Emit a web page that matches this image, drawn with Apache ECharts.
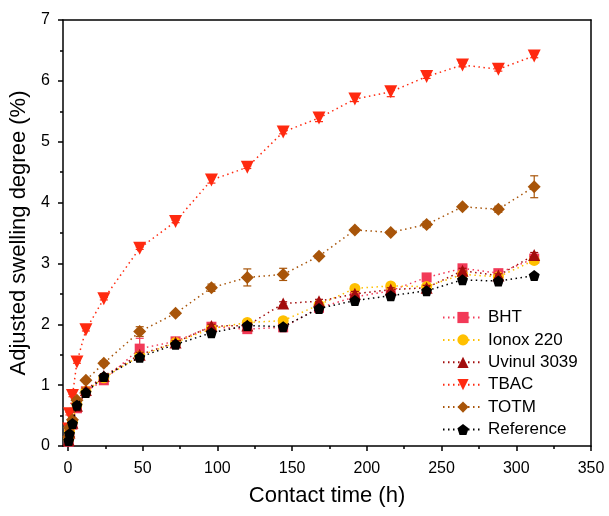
<!DOCTYPE html>
<html>
<head>
<meta charset="utf-8">
<script src="https://cdn.jsdelivr.net/npm/echarts@6/dist/echarts.min.js"></script>
<style>
html,body{margin:0;padding:0;background:#fff;}
#chart{width:609px;height:516px;}
</style>
</head>
<body>
<div id="chart"></div>
<script>
// ---- data ----
const times = [0.5, 1, 3, 6, 12, 24, 48, 72, 96, 120, 144, 168, 192, 216, 240, 264, 288, 312];
const seriesNames = ["BHT", "Ionox 220", "Uvinul 3039", "TBAC", "TOTM", "Reference"];
const bht       = [0.07, 0.20, 0.35, 0.62, 0.90, 1.08, 1.60, 1.72, 1.96, 1.92, 1.95, 2.27, 2.45, 2.55, 2.77, 2.92, 2.84, 3.08];
const ionox     = [0.12, 0.24, 0.40, 0.68, 0.90, 1.12, 1.48, 1.70, 1.93, 2.03, 2.06, 2.32, 2.59, 2.63, 2.62, 2.82, 2.78, 3.05];
const uvinul    = [0.10, 0.22, 0.38, 0.66, 0.92, 1.15, 1.50, 1.70, 1.97, 1.98, 2.34, 2.38, 2.50, 2.57, 2.60, 2.88, 2.80, 3.14];
const tbac      = [0.28, 0.53, 0.83, 1.38, 1.91, 2.42, 3.25, 3.69, 4.37, 4.58, 5.16, 5.39, 5.70, 5.82, 6.07, 6.26, 6.19, 6.41];
const totm      = [0.15, 0.30, 0.43, 0.75, 1.08, 1.36, 1.88, 2.18, 2.60, 2.77, 2.82, 3.12, 3.55, 3.51, 3.64, 3.93, 3.89, 4.26];
const reference = [0.09, 0.20, 0.37, 0.67, 0.88, 1.14, 1.46, 1.67, 1.86, 1.98, 1.96, 2.26, 2.39, 2.47, 2.55, 2.73, 2.71, 2.80];
// error bars (±)
const bhtErr    = [0.03, 0.03, 0.03, 0.03, 0.03, 0.03, 0.17, 0.03, 0.03, 0.03, 0.03, 0.03, 0.03, 0.03, 0.03, 0.03, 0.03, 0.03];
const ionoxErr  = [0.02, 0.02, 0.02, 0.02, 0.02, 0.03, 0.03, 0.03, 0.03, 0.03, 0.03, 0.03, 0.03, 0.03, 0.03, 0.03, 0.03, 0.03];
const uvinulErr = [0.03, 0.03, 0.03, 0.03, 0.03, 0.04, 0.04, 0.03, 0.03, 0.04, 0.03, 0.03, 0.04, 0.03, 0.04, 0.04, 0.03, 0.04];
const tbacErr   = [0.02, 0.02, 0.02, 0.02, 0.02, 0.02, 0.02, 0.02, 0.05, 0.02, 0.03, 0.06, 0.04, 0.08, 0.03, 0.03, 0.03, 0.03];
const totmErr   = [0.02, 0.02, 0.03, 0.03, 0.03, 0.04, 0.08, 0.03, 0.06, 0.14, 0.10, 0.03, 0.03, 0.03, 0.05, 0.03, 0.05, 0.18];
const refErr    = [0.03, 0.03, 0.03, 0.03, 0.03, 0.03, 0.03, 0.03, 0.03, 0.03, 0.03, 0.03, 0.03, 0.03, 0.03, 0.03, 0.03, 0.03];
const xTicks = [0, 50, 100, 150, 200, 250, 300, 350];
const xMinorTicks = [25, 75, 125, 175, 225, 275, 325];
const yTicks = [0, 1, 2, 3, 4, 5, 6, 7];

// ---- styles ----
const FONT = "Liberation Sans, Arial, sans-serif";
const pentagon = 'path://M0,-10 L9.51,-3.09 L5.88,8.09 L-5.88,8.09 L-9.51,-3.09 Z';
const styles = [
  {color: '#F23A58', symbol: 'rect', size: 10, rotate: 0},
  {color: '#FFC000', symbol: 'circle', size: 11, rotate: 0},
  {color: '#A20C0C', symbol: 'triangle', size: 12, rotate: 0},
  {color: '#FF2A10', symbol: 'triangle', size: 13, rotate: 180},
  {color: '#A8550A', symbol: 'diamond', size: 13, rotate: 0},
  {color: '#000000', symbol: pentagon, size: 11, rotate: 0}
];
const values = [bht, ionox, uvinul, tbac, totm, reference];
const errors = [bhtErr, ionoxErr, uvinulErr, tbacErr, totmErr, refErr];

const chart = echarts.init(document.getElementById('chart'), null, {renderer: 'canvas'});

const series = [];
values.forEach((vals, i) => {
  const st = styles[i];
  series.push({
    name: seriesNames[i],
    type: 'line',
    xAxisIndex: 0, yAxisIndex: 0,
    data: times.map((t, k) => [t, vals[k]]),
    symbol: st.symbol,
    symbolSize: st.size,
    symbolRotate: st.rotate,
    itemStyle: {color: st.color},
    lineStyle: {color: st.color, width: 1.5, type: [1.5, 3.5]},
    emphasis: {disabled: true},
    animation: false,
    z: 2 + i * 0.01
  });
  series.push({
    type: 'custom',
    xAxisIndex: 0, yAxisIndex: 0,
    data: times.map((t, k) => [t, vals[k], errors[i][k]]),
    renderItem: function (params, api) {
      const t = api.value(0), v = api.value(1), e = api.value(2);
      const hi = api.coord([t, v + e]);
      const lo = api.coord([t, v - e]);
      const w = 4;
      const style = {stroke: st.color, lineWidth: 1.2};
      return {
        type: 'group',
        children: [
          {type: 'line', shape: {x1: hi[0], y1: hi[1], x2: lo[0], y2: lo[1]}, style: style},
          {type: 'line', shape: {x1: hi[0] - w, y1: hi[1], x2: hi[0] + w, y2: hi[1]}, style: style},
          {type: 'line', shape: {x1: lo[0] - w, y1: lo[1], x2: lo[0] + w, y2: lo[1]}, style: style}
        ]
      };
    },
    silent: true,
    animation: false,
    z: 2 + i * 0.01 + 0.005
  });
});

const axisLineStyle = {color: '#000', width: 1.5};

chart.setOption({
  backgroundColor: '#fff',
  textStyle: {fontFamily: FONT},
  grid: {left: 63, right: 18, top: 20, bottom: 70, containLabel: false},
  legend: {
    data: seriesNames,
    orient: 'vertical',
    left: 437,
    top: 304,
    itemWidth: 40,
    itemHeight: 14,
    itemGap: 5.4,
    selectedMode: false,
    textStyle: {fontFamily: FONT, fontSize: 17, color: '#000', lineHeight: 17}
  },
  xAxis: [
    {
      type: 'value', min: -3.33, max: 350, position: 'bottom',
      name: 'Contact time (h)', nameLocation: 'middle', nameGap: 39,
      nameTextStyle: {fontFamily: FONT, fontSize: 22, color: '#000'},
      axisLine: {show: true, onZero: false, lineStyle: axisLineStyle},
      axisTick: {show: true, length: 5, customValues: xTicks, lineStyle: axisLineStyle},
      axisLabel: {customValues: xTicks, fontFamily: FONT, fontSize: 16, color: '#000', margin: 15},
      splitLine: {show: false}
    },
    {
      type: 'value', min: -3.33, max: 350, position: 'bottom',
      axisLine: {show: false, onZero: false},
      axisTick: {show: true, length: 3, customValues: xMinorTicks, lineStyle: axisLineStyle},
      axisLabel: {show: false},
      splitLine: {show: false}
    },
    {
      type: 'value', min: -3.33, max: 350, position: 'top',
      axisLine: {show: true, onZero: false, lineStyle: axisLineStyle},
      axisTick: {show: false}, axisLabel: {show: false}, splitLine: {show: false}
    }
  ],
  yAxis: [
    {
      type: 'value', min: 0, max: 7, interval: 1, position: 'left',
      name: 'Adjusted swelling degree (%)', nameLocation: 'middle', nameGap: 29,
      nameTextStyle: {fontFamily: FONT, fontSize: 22, color: '#000'},
      axisLine: {show: true, onZero: false, lineStyle: axisLineStyle},
      axisTick: {show: true, length: 5, lineStyle: axisLineStyle},
      minorTick: {show: true, splitNumber: 2, length: 3, lineStyle: axisLineStyle},
      axisLabel: {fontFamily: FONT, fontSize: 16, color: '#000', margin: 13,
        formatter: v => yTicks.includes(v) ? String(v) : ''},
      splitLine: {show: false}
    },
    {
      type: 'value', min: 0, max: 7, position: 'right',
      axisLine: {show: true, onZero: false, lineStyle: axisLineStyle},
      axisTick: {show: false}, axisLabel: {show: false}, splitLine: {show: false}
    }
  ],
  series: series
});
</script>
</body>
</html>
